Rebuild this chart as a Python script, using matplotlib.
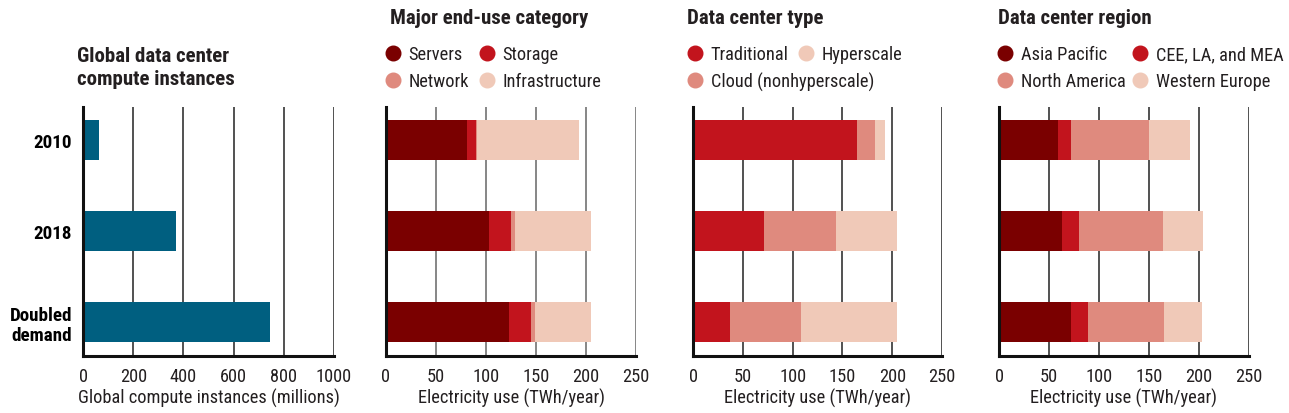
import matplotlib
matplotlib.use("Agg")
import matplotlib.pyplot as plt
from matplotlib import font_manager
from matplotlib.lines import Line2D
import numpy as np

# ---------------- data ----------------
categories = ["2010", "2018", "Doubled\ndemand"]

compute_instances = [63, 372, 746]  # millions

enduse_labels = ["Servers", "Storage", "Network", "Infrastructure"]
enduse_servers = [81, 102.5, 123]
enduse_storage = [8.5, 22.5, 21.5]
enduse_network = [1.5, 4, 4.5]
enduse_infra = [102, 76, 55.5]

type_labels = ["Traditional", "Cloud (nonhyperscale)", "Hyperscale"]
type_traditional = [165, 71, 37]
type_cloud = [17.5, 72.5, 71]
type_hyperscale = [10.5, 61.5, 97]

region_labels = ["Asia Pacific", "CEE, LA, and MEA", "North America", "Western Europe"]
region_ap = [59, 63, 72]
region_cee = [13, 17, 16.5]
region_na = [78, 84, 76]
region_we = [41, 39.5, 38.5]

compute_ticks = [0, 200, 400, 600, 800, 1000]
elec_ticks = [0, 50, 100, 150, 200, 250]

# ---------------- style ----------------
C_DARK = "#7A0000"
C_RED = "#C2141D"
C_MID = "#DF8A7E"
C_LIGHT = "#F0C9B8"
C_BLUE = "#005F80"
TXT = "#231F20"

avail = {f.name for f in font_manager.fontManager.ttflist}
FONT = "DejaVu Sans"
for cand in ["Liberation Sans Narrow", "Roboto Condensed", "Open Sans Condensed", "Liberation Sans"]:
    if cand in avail:
        FONT = cand
        break
plt.rcParams["font.family"] = [FONT, "DejaVu Sans"]
plt.rcParams["text.color"] = TXT

W, H = 1289, 414
fig = plt.figure(figsize=(W / 100, H / 100), dpi=100)

def px_axes(left, right, top, bottom):
    return fig.add_axes([left / W, 1 - bottom / H, (right - left) / W, (bottom - top) / H])

FS = 13.2
TFS = 15
y = np.arange(len(categories))
BH = 0.44

def style_axes(ax, ticks, xlabel, grid_color):
    ax.set_xlim(ticks[0], ticks[-1])
    ax.set_ylim(2.37, -0.36)
    for t in ticks[1:]:
        ax.axvline(t, color=grid_color, lw=1.1, zorder=1)
    for s in ["top", "right"]:
        ax.spines[s].set_visible(False)
    ax.spines["left"].set_linewidth(2.2)
    ax.spines["bottom"].set_linewidth(2.2)
    ax.spines["left"].set_color("#111111")
    ax.spines["bottom"].set_color("#111111")
    ax.set_xticks(ticks)
    ax.set_xticklabels([str(t) for t in ticks])
    ax.tick_params(axis="x", length=0, pad=8, labelsize=FS, labelcolor=TXT)
    ax.set_xlabel(xlabel, fontsize=FS, color=TXT, labelpad=2)

# Panel 1
ax1 = px_axes(83, 334, 108, 357)
ax1.barh(y, compute_instances, height=BH, color=C_BLUE, zorder=2)
style_axes(ax1, compute_ticks, "Global compute instances (millions)", "#222222")
ax1.set_yticks(y)
ax1.set_yticklabels(categories, fontsize=FS + 0.5, fontweight="bold", linespacing=1.15)
ax1.tick_params(axis="y", length=0, pad=8)
fig.text(77 / W, 1 - 68 / H, "Global data center\ncompute instances", fontsize=TFS,
         fontweight="bold", ha="left", va="center", linespacing=1.3)

def stacked(ax, series, colors):
    left = np.zeros(len(categories))
    for vals, c in zip(series, colors):
        ax.barh(y, vals, left=left, height=BH, color=c, zorder=2)
        left = left + np.array(vals)
    ax.set_yticks([])

# Panel 2
ax2 = px_axes(386, 636, 108, 357)
stacked(ax2, [enduse_servers, enduse_storage, enduse_network, enduse_infra],
        [C_DARK, C_RED, C_MID, C_LIGHT])
style_axes(ax2, elec_ticks, "Electricity use (TWh/year)", "#666666")

# Panel 3
ax3 = px_axes(693, 942, 108, 357)
stacked(ax3, [type_traditional, type_cloud, type_hyperscale], [C_RED, C_MID, C_LIGHT])
style_axes(ax3, elec_ticks, "Electricity use (TWh/year)", "#222222")

# Panel 4
ax4 = px_axes(999, 1249, 108, 357)
stacked(ax4, [region_ap, region_cee, region_na, region_we], [C_DARK, C_RED, C_MID, C_LIGHT])
style_axes(ax4, elec_ticks, "Electricity use (TWh/year)", "#222222")

# titles
for x, t in [(390, "Major end-use category"), (687, "Data center type"), (998, "Data center region")]:
    fig.text(x / W, 1 - 18 / H, t, fontsize=TFS, fontweight="bold", ha="left", va="center")

# legend items
HL = 1.0  # handle length in font units
def item(label, color, cx, cy):
    hpx = HL * FS * 100 / 72
    h = Line2D([], [], ls="none", marker="o", ms=10.5, mfc=color, mec=color)
    lg = fig.legend([h], [label], loc="center left",
                    bbox_to_anchor=((cx - hpx / 2) / W, 1 - cy / H),
                    frameon=False, fontsize=FS, handlelength=HL, handletextpad=0.35,
                    borderpad=0, borderaxespad=0)
    return lg

item("Servers", C_DARK, 393, 55)
item("Storage", C_RED, 487, 55)
item("Network", C_MID, 393, 82)
item("Infrastructure", C_LIGHT, 487, 82)

item("Traditional", C_RED, 695, 55)
item("Hyperscale", C_LIGHT, 806, 55)
item("Cloud (nonhyperscale)", C_MID, 695, 82)

item("Asia Pacific", C_DARK, 1005, 55)
item("CEE, LA, and MEA", C_RED, 1140, 55)
item("North America", C_MID, 1005, 82)
item("Western Europe", C_LIGHT, 1140, 82)

fig.savefig("out.png", dpi=100)
